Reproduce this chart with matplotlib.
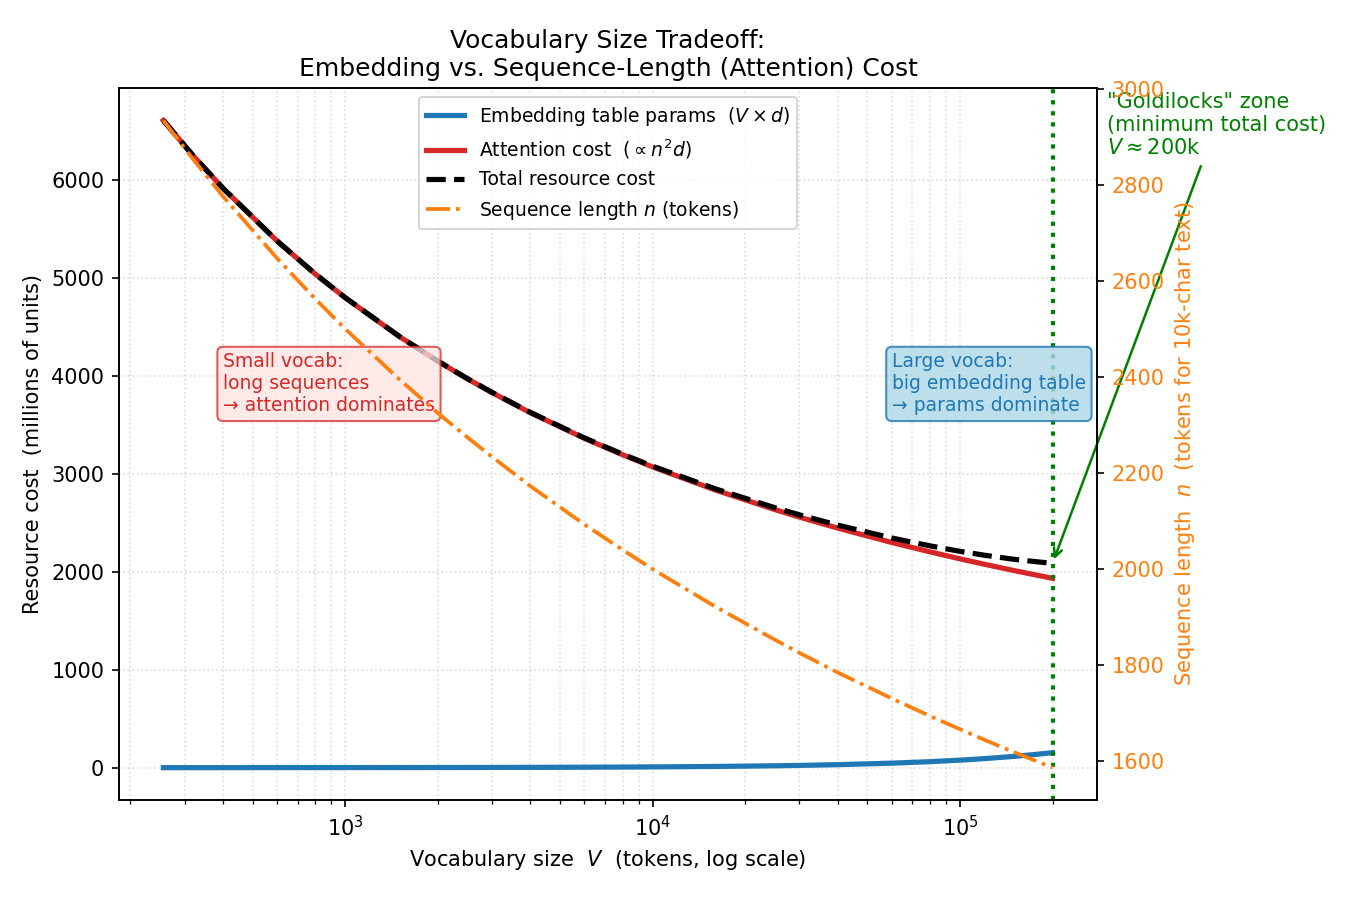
import numpy as np
import matplotlib
matplotlib.use('Agg')
import matplotlib.pyplot as plt

# vocabulary sizes (tokens) and values
vocab = [256, 320, 400, 600, 800, 1000, 1500, 2000, 2500, 3000, 4000, 6000, 8000,
         10000, 16000, 25000, 30000, 40000, 60000, 80000, 100000, 120000, 150000,
         175000, 200000]
# sequence length n (tokens for a 10k-char text)
seq_len = [2934, 2853, 2776, 2647, 2562, 2500, 2395, 2325, 2274, 2234, 2173, 2093, 2040,
           2000, 1922, 1853, 1826, 1785, 1731, 1694, 1667, 1645, 1619, 1602, 1587]
# attention cost, millions of units
attn_cost = [6612, 6251, 5919, 5380, 5041, 4800, 4404, 4152, 3971, 3832, 3626, 3364, 3195,
             3072, 2836, 2636, 2560, 2447, 2300, 2204, 2133, 2078, 2013, 1971, 1934]
# embedding table params, millions
embed_params = [0.2, 0.25, 0.3, 0.5, 0.6, 0.8, 1.2, 1.5, 1.9, 2.3, 3.1, 4.6, 6.1,
                7.7, 12.3, 19.2, 23.0, 30.7, 46.1, 61.4, 76.8, 92.2, 115.2, 134.4, 153.6]

total_cost = np.array(attn_cost) + np.array(embed_params)
best_v = vocab[-1]

fig = plt.figure(figsize=(9, 6), dpi=150)
ax = fig.add_axes([0.0881, 0.1111, 0.7245, 0.7911])

l1, = ax.plot(vocab, embed_params, color='C0', lw=2.5,
              label=r'Embedding table params  ($V \times d$)')
l2, = ax.plot(vocab, attn_cost, color='C3', lw=2.5,
              label=r'Attention cost  ($\propto n^2 d$)')
l3, = ax.plot(vocab, total_cost, color='black', ls='--', lw=2.5,
              label='Total resource cost')
ax.set_xscale('log')
ax.set_xlabel(r'Vocabulary size  $V$  (tokens, log scale)')
ax.set_ylabel('Resource cost  (millions of units)')
ax.grid(True, which='both', ls=':', color='#cccccc', alpha=0.7)

ax.axvline(best_v, color='green', ls=':', lw=2)

ax2 = ax.twinx()
l4, = ax2.plot(vocab, seq_len, color='C1', ls='-.', lw=1.8,
               label=r'Sequence length $n$ (tokens)')
ax2.set_ylabel(r'Sequence length  $n$  (tokens for 10k-char text)', color='C1')
ax2.tick_params(axis='y', labelcolor='C1')

ax.text(400, 3920, 'Small vocab:\nlong sequences\n\u2192 attention dominates',
        color='C3', fontsize=9, ha='left', va='center',
        bbox=dict(boxstyle='round,pad=0.3', fc='mistyrose', ec='C3', alpha=0.75))
ax.text(60000, 3920, 'Large vocab:\nbig embedding table\n\u2192 params dominate',
        color='C0', fontsize=9, ha='left', va='center',
        bbox=dict(boxstyle='round,pad=0.3', fc='lightblue', ec='C0', alpha=0.8))

ax.annotate('"Goldilocks" zone\n(minimum total cost)\n$V \\approx 200$k',
            xy=(best_v, total_cost[-1]), xytext=(3.0e5, 6905),
            ha='left', va='top', color='green', fontsize=10,
            arrowprops=dict(arrowstyle='->', color='green', lw=1.2))

ax.legend([l1, l2, l3, l4], [h.get_label() for h in (l1, l2, l3, l4)],
          loc='upper center', fontsize=9)

ax.set_title('Vocabulary Size Tradeoff:\nEmbedding vs. Sequence-Length (Attention) Cost',
             fontsize=12)

fig.savefig('out.png', dpi=150)
